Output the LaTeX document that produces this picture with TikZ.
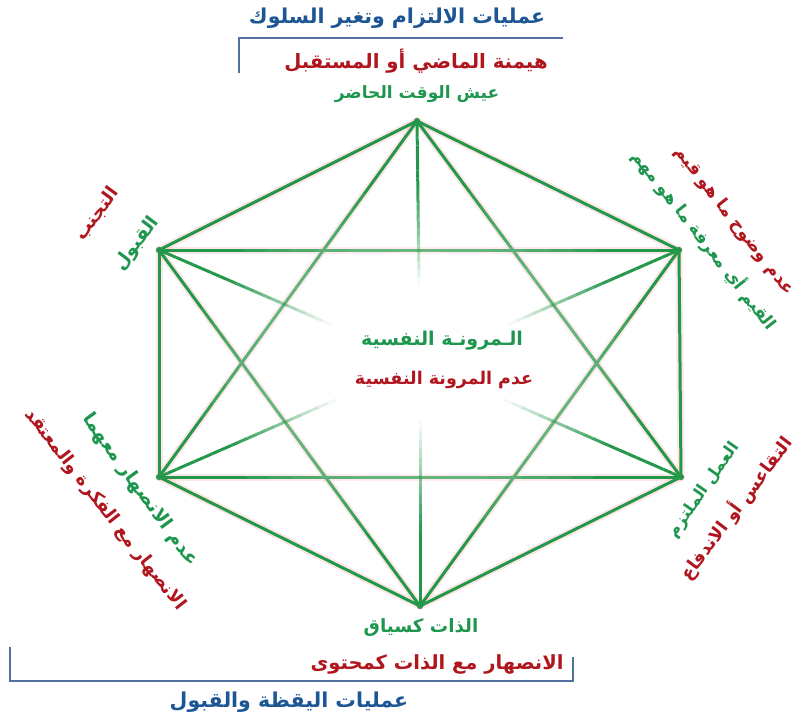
\documentclass[tikz,border=0pt]{standalone}
\usepackage{fontspec}
\TeXXeTstate=1
\newfontfamily\arabicfont[Script=Arabic]{DejaVu Sans}
\usetikzlibrary{calc}
\definecolor{lgreen}{RGB}{36,152,74}
\definecolor{tgreen}{RGB}{30,150,78}
\definecolor{tred}{RGB}{176,22,30}
\definecolor{tblue}{RGB}{28,86,148}
\definecolor{bblue}{RGB}{82,112,160}
\begin{document}
\begin{tikzpicture}[x=1pt,y=-1pt,
  ar/.style={font={\arabicfont\bfseries\fontsize{#1pt}{#1pt}\selectfont}, inner sep=0pt, anchor=center},
  halo/.style={draw=red!45, line width=7pt, opacity=0.22, line cap=round},
  gline/.style={draw=lgreen, line width=3pt, line cap=round},
  spoke/.style={draw=lgreen, line width=3pt, line cap=butt},
  bracket/.style={draw=bblue, line width=2.2pt}]
\useasboundingbox (0,0) rectangle (797,718);
% vertices
\coordinate (T) at (417,121);
\coordinate (UR) at (679,250);
\coordinate (LR) at (681,477);
\coordinate (B) at (420,606);
\coordinate (LL) at (159,477);
\coordinate (UL) at (159,250);
\coordinate (C) at (420,363);
% halo + lines
\foreach \a/\b in {T/UR,UR/LR,LR/B,B/LL,LL/UL,UL/T,T/LR,T/LL,B/UR,B/UL,UL/UR,LL/LR}
  \draw[halo] (\a) -- (\b);
\foreach \a/\b in {T/UR,UR/LR,LR/B,B/LL,LL/UL,UL/T,T/LR,T/LL,B/UR,B/UL,UL/UR,LL/LR}
  \draw[gline] (\a) -- (\b);
% central glow
\foreach \k in {1,...,14}
  \fill[white, opacity=0.07] (C) ellipse [x radius={230*\k/14}, y radius={175*\k/14}];
% fading spokes
\foreach \v/\f in {T/0.68,B/0.76,UL/0.66,LR/0.68,UR/0.66,LL/0.68}{
  \foreach \i in {0,...,19}{
    \pgfmathsetmacro\ta{\i/20*\f}
    \pgfmathsetmacro\tb{(\i+1)/20*\f}
    \pgfmathsetmacro\op{min(1,(1-(\i+0.5)/20)/0.6)}
    \draw[spoke, opacity=\op] ($(\v)!\ta!(C)$) -- ($(\v)!\tb!(C)$);
  }
}
\foreach \v in {T,UR,LR,B,LL,UL} \fill[lgreen] (\v) circle (3);
% brackets
\draw[bracket] (239,73) -- (239,38) -- (563,38);
\draw[bracket] (10,647) -- (10,681) -- (573,681) -- (573,657);
% texts
\node[ar=20.5, text=tblue] (t1) at (397,18) {\beginR عمليات الالتزام وتغير السلوك\endR};
\node[ar=19.7, text=tred] (t2) at (416,61) {\beginR هيمنة الماضي أو المستقبل\endR};
\node[ar=17, text=tgreen] (t3) at (417,94) {\beginR عيش الوقت الحاضر\endR};
\node[ar=19, text=tgreen] (c1) at (442,341) {\beginR الـمرونـة النفسية\endR};
\node[ar=17.5, text=tred] (c2) at (444,380) {\beginR عدم المرونة النفسية\endR};
\node[ar=18.3, text=tgreen] (b1) at (421,628) {\beginR الذات كسياق\endR};
\node[ar=19.5, text=tred] (b2) at (437,664) {\beginR الانصهار مع الذات كمحتوى\endR};
\node[ar=20.5, text=tblue] (b3) at (289,702) {\beginR عمليات اليقظة والقبول\endR};
\node[ar=18.4, text=tred, rotate=54] (ul1) at (97,214) {\beginR التجنب\endR};
\node[ar=18.5, text=tgreen, rotate=53] (ul2) at (137,244) {\beginR القبول\endR};
\node[ar=17.4, text=tred, rotate=-52] (ur1) at (734,221) {\beginR عدم وضوح ما هو قيم\endR};
\node[ar=17, text=tgreen, rotate=-52] (ur2) at (705,240) {\beginR القيم أي معرفة ما هو مهم\endR};
\node[ar=17.9, text=tred, rotate=-52] (ll1) at (105,510) {\beginR الانصهار مع الفكرة والمعتقد\endR};
\node[ar=19, text=tgreen, rotate=-54] (ll2) at (140,490) {\beginR عدم الانصهار معهما\endR};
\node[ar=17.8, text=tred, rotate=53] (lr1) at (736,508) {\beginR التقاعس أو الاندفاع\endR};
\node[ar=16.5, text=tgreen, rotate=55] (lr2) at (704,490) {\beginR العمل الملتزم\endR};
\end{tikzpicture}
\end{document}
